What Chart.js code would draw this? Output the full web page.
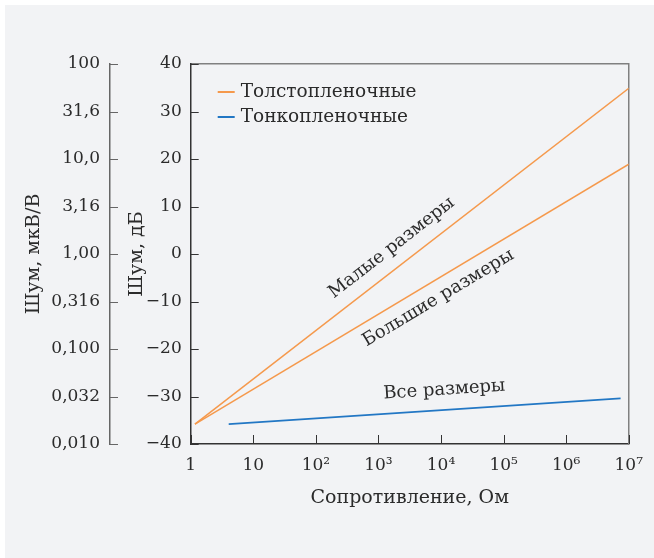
<!DOCTYPE html>
<html>
<head>
<meta charset="utf-8">
<script src="https://cdn.jsdelivr.net/npm/chart.js@4/dist/chart.umd.min.js"></script>
<style>
html, body { margin: 0; padding: 0; background: #fff; }
#wrap { position: absolute; left: 5px; top: 5px; width: 649px; height: 553px; background: #f2f3f5; }
</style>
</head>
<body>
<div id="wrap"><canvas id="noise-chart"></canvas></div>
<script>
// decades of resistance, Ohm
var decades = [1, 10, 100, 1e3, 1e4, 1e5, 1e6, 1e7];
var decadeLabels = ["1", "10", "10²", "10³", "10⁴", "10⁵", "10⁶", "10⁷"];
// noise, dB and the matching uV/V labels
var dbTicks = [-40, -30, -20, -10, 0, 10, 20, 30, 40];
var voltLabels = ["0,010", "0,032", "0,100", "0,316", "1,00", "3,16", "10,0", "31,6", "100"];

// thick film, small sizes
var thickSmallR = [1.17, 1e7];
var thickSmallDb = [-35.8, 34.9];
// thick film, large sizes
var thickLargeR = [1.17, 1e7];
var thickLargeDb = [-35.8, 18.9];
// thin film, all sizes
var thinR = [4.05, 7.4e6];
var thinDb = [-35.8, -30.4];

var notes = [
    { text: "Малые размеры", r: 1630, db: 1.3, ds: 0 },
    { text: "Большие размеры", r: 9060, db: -9.3, ds: 1 },
    { text: "Все размеры", r: 11300, db: -28.6, ds: 2 }
];

var orange = "#f5994c";
var blue = "#2277c4";
var textColor = "#2b2b2b";
var fontFamily = '"DejaVu Serif", serif';

function toPoints(xs, ys) {
    var pts = [];
    for (var i = 0; i < xs.length; i++) {
        pts.push({ x: xs[i], y: ys[i] });
    }
    return pts;
}

// inward tick marks on the frame axes
var tickMarks = {
    id: "tickMarks",
    afterDraw: function (chart) {
        var ctx = chart.ctx;
        var x = chart.scales.x, y = chart.scales.y, yv = chart.scales.yv;
        ctx.save();
        ctx.lineWidth = 1;
        ctx.strokeStyle = "#333";
        ctx.beginPath();
        x.ticks.forEach(function (t) {
            var px = Math.round(x.getPixelForValue(t.value)) + 0.5;
            ctx.moveTo(px, x.top);
            ctx.lineTo(px, x.top - 9);
        });
        y.ticks.forEach(function (t) {
            var py = Math.round(y.getPixelForValue(t.value)) + 0.5;
            ctx.moveTo(y.right, py);
            ctx.lineTo(y.right + 8, py);
        });
        ctx.stroke();
        ctx.strokeStyle = "#666";
        ctx.beginPath();
        yv.ticks.forEach(function (t) {
            var py = Math.round(yv.getPixelForValue(t.value)) + 0.5;
            ctx.moveTo(yv.right, py);
            ctx.lineTo(yv.right + 8, py);
        });
        ctx.stroke();
        ctx.restore();
    }
};

// legend drawn inside the plot, top left
var insideLegend = {
    id: "insideLegend",
    afterDatasetsDraw: function (chart) {
        var ctx = chart.ctx, area = chart.chartArea;
        var items = [chart.data.datasets[0], chart.data.datasets[2]];
        ctx.save();
        ctx.font = "18.5px " + fontFamily;
        ctx.textBaseline = "middle";
        for (var i = 0; i < items.length; i++) {
            var yy = area.top + 28 + i * 25;
            ctx.strokeStyle = items[i].borderColor;
            ctx.lineWidth = 2;
            ctx.beginPath();
            ctx.moveTo(area.left + 27, yy);
            ctx.lineTo(area.left + 44, yy);
            ctx.stroke();
            ctx.fillStyle = textColor;
            ctx.fillText(items[i].label, area.left + 50, yy);
        }
        ctx.restore();
    }
};

// rotated captions along the lines
var lineNotes = {
    id: "lineNotes",
    afterDatasetsDraw: function (chart) {
        var ctx = chart.ctx, x = chart.scales.x, y = chart.scales.y;
        ctx.save();
        ctx.font = "18px " + fontFamily;
        ctx.fillStyle = textColor;
        ctx.textAlign = "center";
        ctx.textBaseline = "middle";
        notes.forEach(function (n) {
            var pts = chart.getDatasetMeta(n.ds).data;
            var a = pts[0], b = pts[pts.length - 1];
            var ang = Math.atan2(b.y - a.y, b.x - a.x);
            ctx.save();
            ctx.translate(x.getPixelForValue(n.r), y.getPixelForValue(n.db));
            ctx.rotate(ang);
            ctx.fillText(n.text, 0, 0);
            ctx.restore();
        });
        ctx.restore();
    }
};

var ctx = document.getElementById("noise-chart");
var noiseChart = new Chart(ctx, {
    type: "line",
    data: {
        datasets: [{
            label: "Толстопленочные",
            data: toPoints(thickSmallR, thickSmallDb),
            borderColor: orange,
            borderWidth: 1.5,
            pointRadius: 0,
            fill: false
        }, {
            label: "Толстопленочные, большие",
            data: toPoints(thickLargeR, thickLargeDb),
            borderColor: orange,
            borderWidth: 1.5,
            pointRadius: 0,
            fill: false
        }, {
            label: "Тонкопленочные",
            data: toPoints(thinR, thinDb),
            borderColor: blue,
            borderWidth: 1.8,
            pointRadius: 0,
            fill: false
        }]
    },
    options: {
        responsive: true,
        maintainAspectRatio: false,
        animation: false,
        layout: { padding: { left: 0, top: 59, right: 23, bottom: 44 } },
        plugins: {
            legend: { display: false },
            tooltip: { enabled: false }
        },
        scales: {
            x: {
                type: "logarithmic",
                position: "bottom",
                min: 1,
                max: 1e7,
                afterBuildTicks: function (s) {
                    s.ticks = decades.map(function (v) { return { value: v }; });
                },
                afterFit: function (s) { s.height = 70; },
                ticks: {
                    color: textColor,
                    padding: 11,
                    maxRotation: 0,
                    autoSkip: false,
                    font: { family: fontFamily, size: 17 },
                    callback: function (v) { return decadeLabels[decades.indexOf(v)]; }
                },
                grid: { display: false, drawTicks: false },
                border: { color: "#333", width: 1.5 },
                title: {
                    display: true,
                    text: "Сопротивление, Ом",
                    color: textColor,
                    font: { family: fontFamily, size: 19 },
                    padding: { top: 0, bottom: 5 }
                }
            },
            x2: {
                type: "logarithmic",
                position: "top",
                min: 1,
                max: 1e7,
                ticks: { display: false },
                grid: { display: false, drawTicks: false },
                border: { color: "#808080", width: 1.5 }
            },
            y: {
                type: "linear",
                position: "left",
                weight: 0,
                min: -40,
                max: 40,
                afterBuildTicks: function (s) {
                    s.ticks = dbTicks.map(function (v) { return { value: v }; });
                },
                afterFit: function (s) { s.width = 80.7; },
                ticks: {
                    color: textColor,
                    padding: 9,
                    font: { family: fontFamily, size: 17 },
                    callback: function (v) { return String(v).replace("-", "−"); }
                },
                grid: { display: false, drawTicks: false },
                border: { color: "#333", width: 1.5 },
                title: {
                    display: true,
                    text: "Шум, дБ",
                    color: textColor,
                    font: { family: fontFamily, size: 19 },
                    padding: { top: 16, bottom: 0 }
                }
            },
            yv: {
                type: "linear",
                position: "left",
                weight: 10,
                min: -40,
                max: 40,
                afterBuildTicks: function (s) {
                    s.ticks = dbTicks.map(function (v) { return { value: v }; });
                },
                afterFit: function (s) { s.width = 105; },
                ticks: {
                    color: textColor,
                    padding: 10,
                    font: { family: fontFamily, size: 17 },
                    callback: function (v) { return voltLabels[dbTicks.indexOf(v)]; }
                },
                grid: { display: false, drawTicks: false },
                border: { color: "#666", width: 1.5 },
                title: {
                    display: true,
                    text: "Шум, мкВ/В",
                    color: textColor,
                    font: { family: fontFamily, size: 19 },
                    padding: { top: 17.5, bottom: 0 }
                }
            },
            y2: {
                type: "linear",
                position: "right",
                min: -40,
                max: 40,
                ticks: { display: false },
                grid: { display: false, drawTicks: false },
                border: { color: "#808080", width: 1.5 }
            }
        }
    },
    plugins: [tickMarks, insideLegend, lineNotes]
});
</script>
</body>
</html>
